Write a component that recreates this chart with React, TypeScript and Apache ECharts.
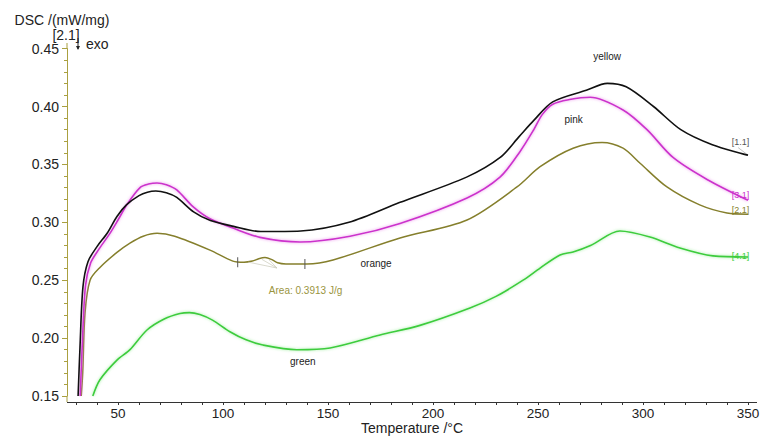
import React, { useEffect, useRef } from "react";
import * as echarts from "echarts";

// Temperature (°C), DSC (mW/mg)
const curve11: [number, number][] = [[31,0.150],[31.9,0.192],[33.3,0.244],[35.7,0.266],[40,0.279],[45,0.291],[49.5,0.305],[54,0.315],[60,0.323],[64,0.326],[68,0.327],[73,0.3255],[78,0.3215],[86,0.309],[94,0.3015],[105,0.2965],[118,0.292],[137,0.2925],[160,0.300],[184,0.317],[216,0.339],[232,0.356],[241,0.374],[248,0.388],[257,0.404],[273,0.414],[283,0.420],[292,0.417],[305,0.400],[318,0.380],[333,0.367],[350,0.358]];
const curve31: [number, number][] = [[32,0.150],[33,0.195],[34.5,0.245],[37,0.265],[41,0.277],[46,0.290],[50,0.302],[54.5,0.316],[60.5,0.330],[64.5,0.333],[68.6,0.334],[73,0.3325],[78,0.328],[85.7,0.3135],[93.8,0.303],[104.8,0.295],[117.6,0.287],[136.7,0.283],[160.5,0.288],[184.3,0.299],[216.2,0.321],[231.9,0.339],[241.4,0.361],[248,0.380],[252,0.393],[257,0.402],[265,0.406],[274.8,0.408],[290.5,0.397],[301.9,0.380],[314.3,0.356],[330.5,0.337],[350,0.319]];
const curve21: [number, number][] = [[32.5,0.150],[33.2,0.170],[34.3,0.222],[36.7,0.250],[41.4,0.261],[49.5,0.274],[55.7,0.282],[62,0.288],[68.6,0.2905],[77,0.288],[93.8,0.276],[104.7,0.2665],[110,0.2655],[114,0.2665],[117,0.2685],[120,0.2695],[123,0.268],[126,0.265],[130,0.264],[140,0.264],[152.4,0.2675],[184.3,0.2865],[216.2,0.302],[240,0.3305],[251,0.348],[266.7,0.364],[280.5,0.369],[290.5,0.364],[298.6,0.351],[311.4,0.3305],[327,0.315],[340,0.308],[350,0.307]];
const curve41: [number, number][] = [[38,0.150],[41.4,0.164],[49.5,0.181],[55.7,0.190],[63.8,0.207],[72,0.2165],[79.5,0.2212],[84,0.222],[89,0.2203],[95,0.2155],[103.3,0.2055],[111,0.1985],[119,0.194],[135.2,0.190],[151,0.1915],[174.8,0.2027],[193.8,0.211],[217.6,0.226],[230,0.236],[242.9,0.250],[251,0.2605],[260.5,0.2718],[266.7,0.2744],[275,0.280],[289,0.2925],[303.3,0.2873],[317.6,0.2778],[333.3,0.271],[350,0.270]];

const curveTags = ["[1.1]", "[3.1]", "[2.1]", "[4.1]"];
const curveTagPos: [number, number][] = [[346.4,0.3694],[346.4,0.3236],[346.4,0.3106],[346.4,0.2709]];
const sampleNames = ["yellow", "pink", "orange", "green"];
const samplePos: [number, number][] = [[282.9,0.4428],[267,0.3884],[172.9,0.264],[138,0.1795]];
const areaText = "Area: 0.3913 J/g";
const areaPos: [number, number] = [139.3, 0.2407];
const areaLimits: [number, number][] = [[107,0.2655],[139,0.264]];
const areaLeaderFrom: [number, number] = [125.7, 0.2605];
const areaLeaderTo: [number, number][] = [[112,0.2656],[118.5,0.268],[122,0.2675]];

const xTickLabels = [50, 100, 150, 200, 250, 300, 350];
const yTicks = { min: 0.15, max: 0.45, interval: 0.05 };
const xTicks = { min: 30, max: 350, interval: 10 };

const FONT = "Liberation Sans, Arial, Helvetica, sans-serif";
const colors = { c11: "#111111", c31: "#cc30cc", c21: "#857f2c", c41: "#3ccc3c" };

function tagPoint(i: number, color: string) {
  return {
    coord: curveTagPos[i],
    symbolSize: 0,
    label: { show: true, position: "inside", formatter: curveTags[i], color, fontSize: 9, fontFamily: FONT },
  };
}
function namePoint(i: number) {
  return {
    coord: samplePos[i],
    symbolSize: 0,
    label: { show: true, position: "inside", formatter: sampleNames[i], color: "#222", fontSize: 10, fontFamily: FONT },
  };
}

export default function App() {
  const ref = useRef<HTMLDivElement>(null);
  useEffect(() => {
    const chart = echarts.init(ref.current!, null, { renderer: "svg" });
    const lineBase = { type: "line", showSymbol: false, smooth: 0.3, silent: true };
    chart.setOption({
      animation: false,
      backgroundColor: "#ffffff",
      grid: { left: 76, right: 13, top: 48.6, bottom: 41, containLabel: false, outerBoundsMode: "none" },
      xAxis: {
        type: "value",
        min: xTicks.min,
        max: xTicks.max,
        interval: xTicks.interval,
        offset: 6,
        axisLine: { lineStyle: { color: "#333", width: 1 } },
        axisTick: { length: 3, lineStyle: { color: "#333" } },
        axisLabel: {
          formatter: (v: number) => (xTickLabels.includes(v) ? String(v) : ""),
          fontSize: 13.5, color: "#222", fontFamily: FONT, margin: 4, lineHeight: 14,
        },
        splitLine: { show: false },
        name: "Temperature /°C",
        nameLocation: "middle",
        nameGap: 19,
        nameMoveOverlap: false,
        nameTextStyle: { fontSize: 14, color: "#222", fontFamily: FONT, verticalAlign: "top", lineHeight: 14 },
      },
      yAxis: {
        type: "value",
        min: yTicks.min,
        max: yTicks.max,
        interval: yTicks.interval,
        offset: 9,
        axisLine: { show: true, lineStyle: { color: "#aaa040", width: 1 } },
        axisTick: { show: true, length: 5, lineStyle: { color: "#aaa040" } },
        minorTick: { show: true, splitNumber: 5, length: 3, lineStyle: { color: "#aaa040" } },
        axisLabel: { formatter: (v: number) => v.toFixed(2), fontSize: 14, color: "#222", fontFamily: FONT, margin: 8 },
        splitLine: { show: false },
        name: "DSC /(mW/mg)",
        nameLocation: "end",
        nameGap: 22,
        nameMoveOverlap: false,
        nameTextStyle: { fontSize: 14, color: "#222", fontFamily: FONT, align: "center", padding: [0, 10, 0, 0] },
      },
      graphic: [
        { type: "line", shape: { x1: 67, y1: 43, x2: 67, y2: 49 }, style: { stroke: "#aaa040", lineWidth: 1 }, silent: true },
        { type: "line", shape: { x1: 67, y1: 396, x2: 67, y2: 402 }, style: { stroke: "#aaa040", lineWidth: 1 }, silent: true },
        { type: "line", shape: { x1: 67, y1: 402.5, x2: 76, y2: 402.5 }, style: { stroke: "#333", lineWidth: 1 }, silent: true },
        { type: "line", shape: { x1: 748, y1: 402.5, x2: 757, y2: 402.5 }, style: { stroke: "#333", lineWidth: 1 }, silent: true },
        { type: "text", x: 66, y: 35, style: { text: "[2.1]", fontSize: 14, fill: "#222", fontFamily: FONT, align: "center", verticalAlign: "middle" }, silent: true },
        { type: "line", shape: { x1: 78, y1: 38, x2: 78, y2: 49 }, style: { stroke: "#222", lineWidth: 1 }, silent: true },
        { type: "polygon", shape: { points: [[76, 46], [80, 46], [78, 50]] }, style: { fill: "#222" }, silent: true },
        { type: "text", x: 86, y: 44, style: { text: "exo", fontSize: 14, fill: "#222", fontFamily: FONT, align: "left", verticalAlign: "middle" }, silent: true },
      ],
      series: [
        {
          ...lineBase, name: "[1.1]", data: curve11, z: 5,
          lineStyle: { color: colors.c11, width: 1.6 },
          markPoint: { silent: true, data: [tagPoint(0, "#555"), namePoint(0)] },
          markLine: {
            silent: true, symbol: "none", label: { show: false },
            lineStyle: { color: "#999", width: 0.6, type: "solid" },
            data: [[{ coord: [345.3, 0.3645] }, { coord: [350, 0.358] }]],
          },
        },
        {
          ...lineBase, name: "[3.1]", data: curve31, z: 4,
          lineStyle: { color: colors.c31, width: 1.6, shadowColor: "rgba(230,120,230,0.8)", shadowBlur: 3 },
          markPoint: { silent: true, data: [tagPoint(1, colors.c31), namePoint(1)] },
        },
        {
          ...lineBase, name: "[2.1]", data: curve21, z: 3,
          lineStyle: { color: colors.c21, width: 1.5 },
          markPoint: {
            silent: true,
            data: [
              tagPoint(2, colors.c21),
              namePoint(2),
              ...areaLimits.map((c) => ({ coord: c, symbol: "rect", symbolSize: [1, 10], itemStyle: { color: "#555" }, label: { show: false } })),
              {
                coord: areaPos, symbolSize: 0,
                label: { show: true, position: "inside", formatter: areaText, color: "#9a9440", fontSize: 10, fontFamily: FONT },
              },
            ],
          },
          markLine: {
            silent: true, symbol: "none", label: { show: false },
            lineStyle: { color: "#c8c8b8", width: 0.7, type: "solid" },
            data: areaLeaderTo.map((c) => [{ coord: areaLeaderFrom }, { coord: c }]),
          },
        },
        {
          ...lineBase, name: "[4.1]", data: curve41, z: 2,
          lineStyle: { color: colors.c41, width: 1.6, shadowColor: "rgba(120,230,120,0.7)", shadowBlur: 3 },
          markPoint: { silent: true, data: [tagPoint(3, colors.c41), namePoint(3)] },
        },
      ],
    });
    return () => chart.dispose();
  }, []);
  return <div ref={ref} style={{ position: "fixed", left: 0, top: 0, width: 761, height: 437 }} />;
}
